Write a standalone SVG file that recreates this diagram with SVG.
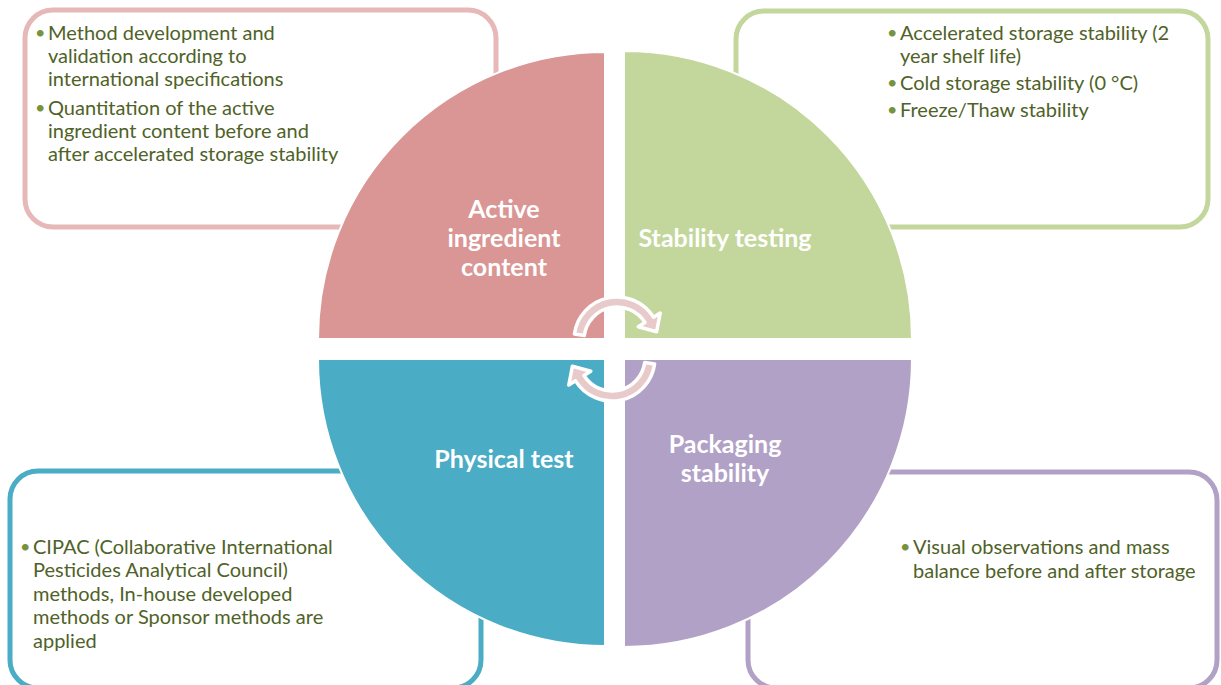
<svg xmlns="http://www.w3.org/2000/svg" width="1221" height="685" viewBox="0 0 1221 685">
<style>
.box{fill:#fff;stroke-width:5}
.q{stroke:#fff;stroke-width:2}
.lbl{font-family:Lato,"Liberation Sans",sans-serif;font-weight:bold;font-size:25px;fill:#fff;text-anchor:middle}
.txt{font-family:Lato,"Liberation Sans",sans-serif;font-size:20px;fill:#4f6228}
.bul{font-family:Lato,"Liberation Sans",sans-serif;font-size:18px;fill:#77933c}
.arr{fill:#e8caca;stroke:#fff;stroke-width:3.5;stroke-linejoin:round}
</style>
<rect width="1221" height="685" fill="#fff"/>
<g id="box-tl">
<rect class="box" x="25" y="10" width="471" height="217" rx="28" stroke="#e6b9b8"/>
<text class="bul" x="35" y="39">•</text>
<text class="txt" x="48" y="40">Method development and</text>
<text class="txt" x="48" y="63">validation according to</text>
<text class="txt" x="48" y="86">international specifications</text>
<text class="bul" x="35" y="114">•</text>
<text class="txt" x="48" y="115">Quantitation of the active</text>
<text class="txt" x="48" y="138">ingredient content before and</text>
<text class="txt" x="48" y="161">after accelerated storage stability</text>
</g>
<g id="box-tr">
<rect class="box" x="736" y="11" width="472" height="216" rx="28" stroke="#c3d69b"/>
<text class="bul" x="887" y="39">•</text>
<text class="txt" x="900" y="40">Accelerated storage stability (2</text>
<text class="txt" x="900" y="63">year shelf life)</text>
<text class="bul" x="887" y="89">•</text>
<text class="txt" x="900" y="90">Cold storage stability (0 °C)</text>
<text class="bul" x="887" y="116">•</text>
<text class="txt" x="900" y="117">Freeze/Thaw stability</text>
</g>
<g id="box-bl">
<rect class="box" x="10" y="471" width="471" height="217" rx="28" stroke="#4bacc6"/>
<text class="bul" x="20" y="553">•</text>
<text class="txt" x="33" y="554">CIPAC (Collaborative International</text>
<text class="txt" x="33" y="577">Pesticides Analytical Council)</text>
<text class="txt" x="33" y="601">methods, In-house developed</text>
<text class="txt" x="33" y="624">methods or Sponsor methods are</text>
<text class="txt" x="33" y="648">applied</text>
</g>
<g id="box-br">
<rect class="box" x="748" y="472" width="469" height="216" rx="28" stroke="#b2a1c7"/>
<text class="bul" x="900" y="553">•</text>
<text class="txt" x="913" y="554">Visual observations and mass</text>
<text class="txt" x="913" y="578">balance before and after storage</text>
</g>
<g id="q-active">
<path class="q" fill="#d99694" d="M605,339 L318,339 A287,287 0 0 1 605,52 Z"/>
<text class="lbl" x="504" y="218">Active</text>
<text class="lbl" x="504" y="247">ingredient</text>
<text class="lbl" x="504" y="276">content</text>
</g>
<g id="q-stability">
<path class="q" fill="#c3d69b" d="M624,339 L624,51 A288,288 0 0 1 912,339 Z"/>
<text class="lbl" x="725" y="247">Stability testing</text>
</g>
<g id="q-physical">
<path class="q" fill="#4bacc6" d="M605,359 L605,646 A287,287 0 0 1 318,359 Z"/>
<text class="lbl" x="504" y="468">Physical test</text>
</g>
<g id="q-packaging">
<path class="q" fill="#b2a1c7" d="M624,359 L912,359 A288,288 0 0 1 624,647 Z"/>
<text class="lbl" x="725" y="453">Packaging</text>
<text class="lbl" x="725" y="482">stability</text>
</g>
<g id="connectors">
<path id="arrow-top" class="arr" d="M574.4,334 A43,43 0 0 1 653.5,317.2 L660.2,313 L656.6,331.8 L638.2,326.75 L645,322.5 A33,33 0 0 0 584.3,335.4 Z"/>
<path id="arrow-bottom" class="arr" transform="rotate(180 614.5 349)" d="M574.4,334 A43,43 0 0 1 653.5,317.2 L660.2,313 L656.6,331.8 L638.2,326.75 L645,322.5 A33,33 0 0 0 584.3,335.4 Z"/>
</g>
</svg>
